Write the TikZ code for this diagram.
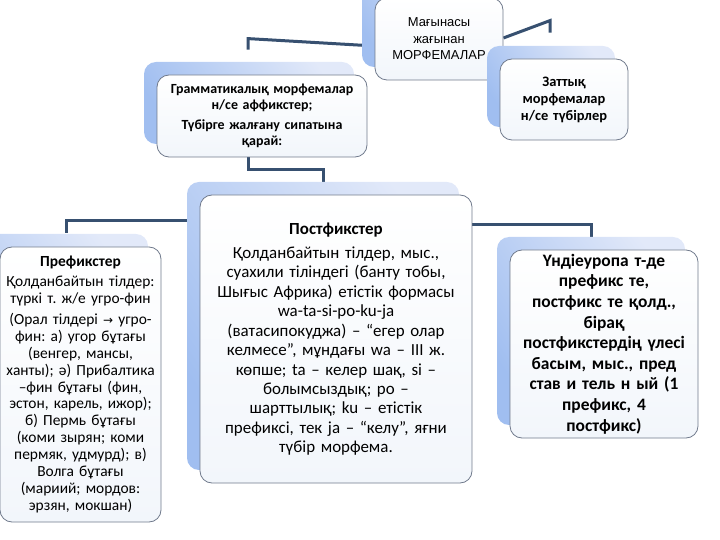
\documentclass[tikz,border=0pt]{standalone}
\usepackage{fontspec}
\setmainfont{Carlito}
\newfontfamily\arialfnt{Liberation Sans}
\newfontfamily\arrowfnt{DejaVu Sans}
\usetikzlibrary{shadows,backgrounds}
\frenchspacing

\definecolor{bdLight}{RGB}{226,233,249}
\definecolor{bdDark}{RGB}{160,190,240}
\definecolor{cardLine}{RGB}{112,122,140}
\definecolor{cardLow}{RGB}{242,246,251}
\definecolor{linkBlue}{RGB}{55,80,112}

\tikzset{
  card/.style={draw=cardLine, line width=0.8bp, rounded corners=12bp,
    top color=white, bottom color=cardLow, align=center, inner sep=2bp,
    general shadow={shadow xshift=-13bp, shadow yshift=13bp,
      left color=bdDark, right color=bdLight, shading angle=125}},
  link/.style={draw=linkBlue, line width=3bp},
}

\begin{document}
\begin{tikzpicture}[x=1bp, y=-1bp]
\useasboundingbox (0,0) rectangle (720,540);

\node[card, minimum width=128bp, minimum height=82bp, text width=122bp,
  font=\arialfnt\fontsize{13}{16.5}\selectfont] (top) at (439,39)
  {Мағынасы\\жағынан\\МОРФЕМАЛАР};
\node[card, minimum width=210bp, minimum height=82bp, text width=204bp,
  font=\bfseries\fontsize{14}{16}\selectfont] (gram) at (262,116)
  {Грамматикалық морфемалар\\н/се аффикстер;\\[4pt]Түбірге жалғану сипатына\\қарай:};
\node[card, minimum width=128bp, minimum height=81bp, text width=122bp,
  font=\bfseries\fontsize{14.5}{17}\selectfont] (root) at (564,99.5)
  {Заттық\\морфемалар\\н/се түбірлер};

\node[card, minimum width=159bp, minimum height=275bp, text width=157bp,
  font=\fontsize{15.5}{17}\selectfont] (pref) at (80.5,384.5)
  {\textbf{Префикстер}\\[3pt]
   Қолданбайтын тілдер:\\түркі т. ж/е угро-фин\\[4pt]
   (Орал тілдері {\arrowfnt\fontsize{12}{17}\selectfont →} угро-\\фин: а) угор бұтағы\\(венгер, мансы,\\ханты); ә) Прибалтика\\–фин бұтағы (фин,\\эстон, карель, ижор);\\б) Пермь бұтағы\\(коми зырян; коми\\пермяк, удмурд); в)\\Волга бұтағы\\(мариий; мордов:\\эрзян, мокшан)};
\node[card, minimum width=272bp, minimum height=288bp, text width=266bp,
  font=\fontsize{17}{19.5}\selectfont] (post) at (336,339)
  {\textbf{Постфикстер}\\[5pt]
   Қолданбайтын тілдер, мыс.,\\суахили тіліндегі (банту тобы,\\Шығыс Африка) етістік формасы\\wa-ta-si-po-ku-ja\\(ватасипокуджа) – “егер олар\\келмесе”, мұндағы wa – III ж.\\көпше; ta – келер шақ, si –\\болымсыздық; po –\\шарттылық; ku – етістік\\префиксі, тек ja – “келу”, яғни\\түбір морфема.};
\node[card, minimum width=188bp, minimum height=188bp, text width=182bp,
  font=\bfseries\fontsize{17.5}{20.7}\selectfont] (indo) at (604,344)
  {Үндіеуропа т-де\\префикс те,\\постфикс те қолд.,\\бірақ\\постфикстердің үлесі\\басым, мыс., пред\\став и тель н ый (1\\префикс, 4\\постфикс)};

\begin{scope}[on background layer]
\draw[link] ([yshift=-7bp]top.west) -- ([xshift=-14bp,yshift=36bp]gram.north)
  -- ([xshift=-14bp,yshift=25bp]gram.north);
\draw[link] ([yshift=1bp]top.east) -- ([xshift=-14bp,yshift=38bp]root.north)
  -- ([xshift=-14bp,yshift=26bp]root.north);
\draw[link] ([xshift=-14bp]gram.south) -- ++(0,12) -| ([xshift=-13bp,yshift=13bp]post.north);
\draw[link] ([xshift=-13bp,yshift=118bp]post.west) -| ([xshift=-14bp,yshift=14bp]pref.north);
\draw[link] ([yshift=114bp]post.east) -| ([xshift=-13bp,yshift=13bp]indo.north);
\end{scope}
\end{tikzpicture}
\end{document}
